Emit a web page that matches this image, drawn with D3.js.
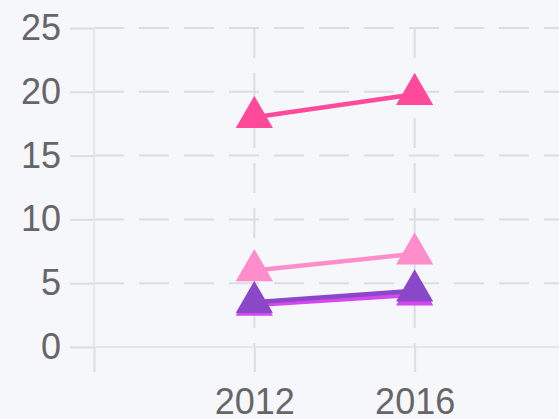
<!DOCTYPE html>
<html>
<head>
<meta charset="utf-8">
<script src="https://cdn.jsdelivr.net/npm/d3@7/dist/d3.min.js"></script>
<style>
  html, body { margin: 0; padding: 0; background: #f6f7fb; }
  svg { display: block; }
  text { font-family: "Liberation Sans", Arial, sans-serif; }
</style>
</head>
<body>
<div id="chart"></div>
<script>
// Survey years and the values of each series
const years = [2012, 2016];
const xTicks = [2008, 2012, 2016, 2020];
const yTicks = [0, 5, 10, 15, 20, 25];

const seriesNames = ["Series A", "Series B", "Series C", "Series D"];
const seriesA = [18.0, 19.8];
const seriesB = [6.0, 7.3];
const seriesC = [3.5, 4.4];
const seriesD = [3.3, 4.1];
const seriesColors = ["#ff4a9c", "#ff8ccb", "#8a48c8", "#d448ee"];

const W = 559, H = 419;
const plotLeft = 94, plotRight = 575, plotTop = 28, plotBottom = 347;

const svg = d3.select("#chart").append("svg")
  .attr("width", W).attr("height", H);

svg.append("rect").attr("width", W).attr("height", H).attr("fill", "#f6f7fb");

const x = d3.scaleLinear().domain([2008, 2020]).range([plotLeft, plotRight]);
const y = d3.scaleLinear().domain([0, 25]).range([plotBottom, plotTop]);

const gridColor = "#dcdde1";
const borderColor = "#e6e7eb";

// dashed grid lines
const grid = svg.append("g");
grid.selectAll(".hgrid").data(yTicks).join("line")
  .attr("x1", plotLeft).attr("x2", plotRight)
  .attr("y1", d => y(d)).attr("y2", d => y(d))
  .attr("stroke", gridColor).attr("stroke-width", 2)
  .attr("stroke-dasharray", "30,15");
grid.selectAll(".vgrid").data(xTicks).join("line")
  .attr("x1", d => x(d)).attr("x2", d => x(d))
  .attr("y1", plotTop).attr("y2", plotBottom)
  .attr("stroke", gridColor).attr("stroke-width", 2)
  .attr("stroke-dasharray", "30,15");

// axis borders
svg.append("line").attr("x1", plotLeft).attr("x2", plotLeft).attr("y1", plotTop).attr("y2", plotBottom)
  .attr("stroke", borderColor).attr("stroke-width", 2);
svg.append("line").attr("x1", plotLeft).attr("x2", plotRight).attr("y1", plotBottom).attr("y2", plotBottom)
  .attr("stroke", borderColor).attr("stroke-width", 2);

// axes
const yAxis = svg.append("g")
  .attr("transform", `translate(${plotLeft},0)`)
  .call(d3.axisLeft(y).tickValues(yTicks).tickSize(24).tickPadding(9));
const xAxis = svg.append("g")
  .attr("transform", `translate(0,${plotBottom})`)
  .call(d3.axisBottom(x).tickValues(xTicks).tickSize(25).tickPadding(16)
    .tickFormat(d => years.includes(d) ? String(d) : ""));

[yAxis, xAxis].forEach(g => {
  g.select(".domain").remove();
  g.selectAll(".tick line").attr("stroke", gridColor).attr("stroke-width", 2);
  g.selectAll(".tick text").attr("fill", "#666").style("font-size", "36px")
    .style("font-family", "'Liberation Sans', Arial, sans-serif");
});

// series lines and triangle markers (first series drawn on top)
const allSeries = [seriesA, seriesB, seriesC, seriesD];
const line = d3.line().x((d, i) => x(years[i])).y(d => y(d));
const r = 20;
const tri = d3.symbol().type(d3.symbolTriangle).size(3 * Math.sqrt(3) * r * r / 4);

const plot = svg.append("g");
for (let s = allSeries.length - 1; s >= 0; s--) {
  const g = plot.append("g").attr("class", "series").attr("data-name", seriesNames[s]);
  g.append("path").datum(allSeries[s])
    .attr("d", line).attr("fill", "none")
    .attr("stroke", seriesColors[s]).attr("stroke-width", 4.5);
  g.selectAll("path.pt").data(allSeries[s]).join("path")
    .attr("class", "pt")
    .attr("d", tri)
    .attr("transform", (d, i) => `translate(${x(years[i])},${y(d)})`)
    .attr("fill", seriesColors[s])
    .attr("stroke", seriesColors[s]).attr("stroke-width", 1.5);
}
</script>
</body>
</html>
